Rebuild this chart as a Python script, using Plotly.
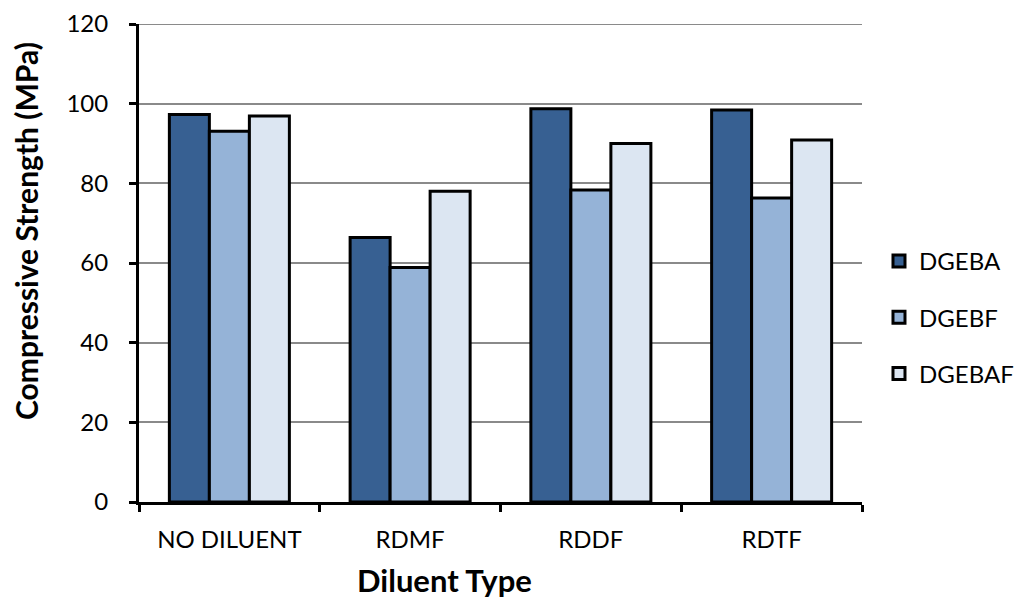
import plotly.graph_objects as go

categories = ["NO DILUENT", "RDMF", "RDDF", "RDTF"]
series_names = ["DGEBA", "DGEBF", "DGEBAF"]
dgeba = [97.3, 66.4, 98.7, 98.4]
dgebf = [93.1, 58.9, 78.3, 76.3]
dgebaf = [96.9, 78.0, 90.0, 90.9]
colors = ["#376092", "#95B3D7", "#DCE6F2"]
y_title = "Compressive Strength (MPa)"
x_title = "Diluent Type"

FONT = "Lato"

fig = go.Figure()
for i, (name, vals) in enumerate(zip(series_names, [dgeba, dgebf, dgebaf])):
    fig.add_trace(go.Bar(
        x=categories, y=vals, name=name,
        marker=dict(color=colors[i], line=dict(color="black", width=3)),
        legendgroup=name,
    ))

fig.update_layout(
    width=1024, height=605,
    margin=dict(l=131, r=170, t=16, b=111, autoexpand=False),
    paper_bgcolor="white", plot_bgcolor="white",
    barmode="group", bargap=0.336, bargroupgap=0,
    font=dict(family=FONT, size=24, color="black"),
    legend=dict(x=1.0235, y=0.386, xanchor="left", yanchor="middle",
                font=dict(size=24), tracegroupgap=22, itemwidth=30),
    showlegend=True,
)
fig.add_annotation(text="<b>" + y_title + "</b>", textangle=-90,
                   xref="paper", yref="paper", x=-0.1563, y=0.567,
                   xanchor="center", yanchor="middle", showarrow=False,
                   font=dict(size=30))
fig.add_annotation(text="<b>" + x_title + "</b>",
                   xref="paper", yref="paper", x=0.423, y=-0.1632,
                   xanchor="center", yanchor="middle", showarrow=False,
                   font=dict(size=31))
fig.add_hline(y=120, line=dict(color="#8A8A8A", width=2), layer="below")
fig.update_xaxes(
    automargin=False,
    showline=True, linecolor="black", linewidth=3,
    ticks="outside", tickson="boundaries", ticklen=7, tickwidth=3, tickcolor="black",
    tickfont=dict(size=24), ticklabelstandoff=14,
)
fig.update_yaxes(
    automargin=False,
    range=[0, 120], dtick=20,
    showline=True, linecolor="black", linewidth=3,
    ticks="outside", ticklen=7, tickwidth=3, tickcolor="black",
    showgrid=True, gridcolor="#8A8A8A", gridwidth=2,
    tickfont=dict(size=24), ticklabelstandoff=16, ticklabeloverflow="allow",
    zeroline=False,
)

fig.write_html("out.html")
